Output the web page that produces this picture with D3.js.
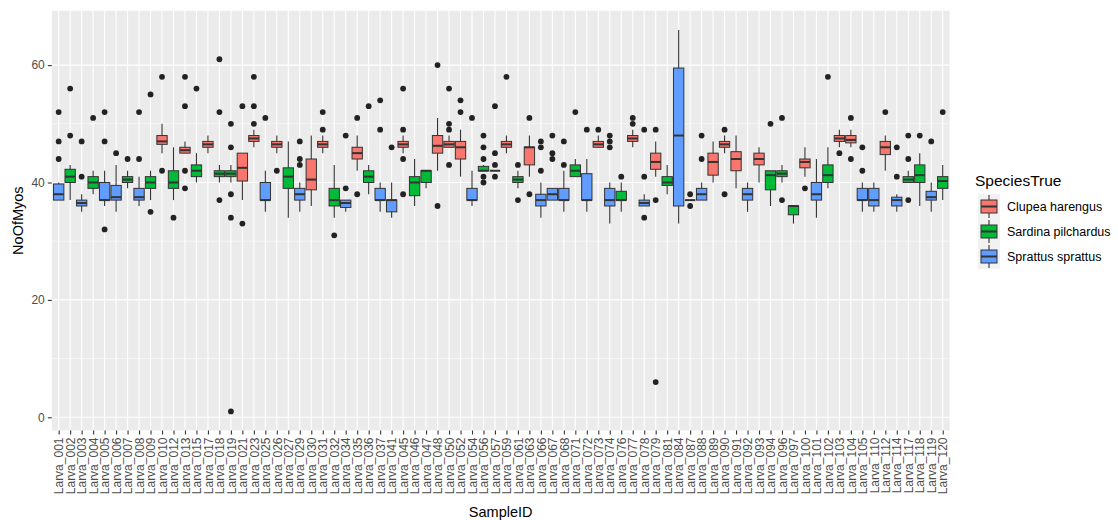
<!DOCTYPE html>
<html>
<head>
<meta charset="utf-8">
<script src="https://cdn.jsdelivr.net/npm/d3@7"></script>
<style>
  body { margin: 0; background: #fff; }
  svg { font-family: "Liberation Sans", Arial, sans-serif; display: block; }
</style>
</head>
<body>
<div id="chart"></div>
<script>
// sample ids on the x axis
var sampleIDs = ["Larva_001","Larva_002","Larva_003","Larva_004","Larva_005","Larva_006","Larva_007","Larva_008","Larva_009","Larva_010",
  "Larva_012","Larva_013","Larva_015","Larva_017","Larva_018","Larva_019","Larva_021","Larva_023","Larva_025","Larva_026",
  "Larva_027","Larva_029","Larva_030","Larva_031","Larva_032","Larva_034","Larva_035","Larva_036","Larva_037","Larva_041",
  "Larva_045","Larva_046","Larva_047","Larva_048","Larva_050","Larva_052","Larva_054","Larva_056","Larva_057","Larva_059",
  "Larva_061","Larva_063","Larva_066","Larva_067","Larva_068","Larva_071","Larva_072","Larva_073","Larva_074","Larva_076",
  "Larva_077","Larva_078","Larva_079","Larva_081","Larva_084","Larva_087","Larva_088","Larva_089","Larva_090","Larva_091",
  "Larva_092","Larva_093","Larva_094","Larva_096","Larva_097","Larva_100","Larva_101","Larva_102","Larva_103","Larva_104",
  "Larva_105","Larva_110","Larva_112","Larva_114","Larva_117","Larva_118","Larva_119","Larva_120"];

// species per sample: C = Clupea, S = Sardina, P = Sprattus
var speciesCode = ["P","S","P","S","P","P","S","P","S","C",
  "S","C","S","C","S","S","C","C","P","C",
  "S","P","C","C","S","P","C","S","P","P",
  "C","S","S","C","C","C","P","S","S","C",
  "S","C","P","P","P","S","P","C","P","S",
  "C","P","C","S","P","P","P","C","C","C",
  "P","C","S","S","S","C","P","S","C","C",
  "P","P","C","P","S","S","P","S"];

var lowerWhisker = [37,37,35,38,36,35,39,36,37,45, 37,45,40,45,40,40,37,46,35,45, 34,35,36,45,34,35,42,38,35,34,
  45,36,39,42,46,41,36,42,42,45, 39,41,34,37,35,41,35,46,33,35, 46,36,41,38,33,37,37,40,45,39,
  35,40,36,40,33,41,34,39,46,46, 35,35,42,35,40,36,35,37];
var q1 = [37,40,36,39,37,37,40,37,39,46.5, 39,45,41,46,41,41,40.25,47,37,46, 39,37,38.75,46,36,35.75,44,40,37,35,
  46,37.75,40,45,46,44,37,42,42,46, 40,43,36,37,37,41,37,46,36,37, 47,36,42.25,39.5,36,37,37,41.25,46,42,
  37,43,38.75,41,34.5,42.5,37,40,47,46.75, 37,36,44.75,36,40,40,37,39];
var median = [38,41,36.5,40,37,37.5,40.5,37.5,40,47, 40,45.5,42,46.5,41.5,41.5,42.5,47.5,37,46.5, 41,38,40.5,46.5,37,36.5,45,41,37,37,
  46.5,40,42,46.25,46.5,46,37,42,42,46.5, 40.5,46,37,38,37,42,37,46.5,37,37, 47.5,36.5,43.5,40,48,37,38,43.5,46.5,44,
  38,44,41.25,41.5,36,43.5,38,41.25,47.5,47.25, 37,37,46,37,40.5,41.25,37.5,40.25];
var q3 = [39.75,42.25,37,41,40,39.5,41,39,41,48, 42,46,43,47,42,42,45,48,40,47, 42.5,39,44,47,39,37,46,42,39,37,
  47,41,42,48,47,47,39,42.75,42,47, 41,46,38,39,39,43,41.5,47,39,38.5, 48,37,45,41,59.5,37,39,45,47,45.25,
  39,45,42,42,36,44,40,43,48,48, 39,39,47,37.5,41,43,38.5,41];
var upperWhisker = [40,43,38,42,42,43,42,41,42,50, 46,47,45,48,43,43,45,49,42,48, 47,40,48,48,43,37,48,43,40,40,
  48,44,42,51,48,49,42,43,42,48, 42,48,40,39,42,44,44,48,40,40, 49,38,47,43,66,37,40,47,48,48,
  40,46,42,43,36,46,44,46,49,49, 40,40,48,38,42,45,40,43];
var outliers = [[52,47,44],[56,48],[47,41],[51],[52,47,32],[45],[44],[52,44],[55,35],[58,42],
  [34],[58,53,42,39],[56],[],[61,52,37],[50,46,38,34,1],[53,33],[58,53,50],[51],[42],
  [],[47,44,43],[],[52,49],[31],[48,39],[51,38],[53],[54,49],[46],
  [56,49,44,38],[],[],[60,36],[56,50,49,43],[54,52],[51],[48,46,44,41,40],[53,45,43,41],[58],
  [43,37],[51,38],[47,46,42],[48,45,44],[47,43],[52],[49],[49],[48,47,46],[41],
  [51,50],[49,41,34],[49,37,6],[],[],[38,36],[48,44],[],[49,38],[],
  [],[],[50],[51,37],[],[39],[],[58],[45],[51,44],
  [46,42],[],[52],[46,41],[48,44,37],[48],[47],[52]];

var speciesNames = ["Clupea harengus","Sardina pilchardus","Sprattus sprattus"];
var speciesKeys = ["C","S","P"];
var speciesColors = ["#F8766D","#00BA38","#619CFF"];
var yTicks = [0,20,40,60];
var yMinor = [10,30,50];

function init(){
  var W = 1118, H = 520;
  var pLeft = 51.8, pRight = 949.6, pTop = 10.8, pBottom = 430.5;

  var rows = sampleIDs.map(function(id, i){
    return {id: id, sp: speciesCode[i], lw: lowerWhisker[i], q1: q1[i], med: median[i],
            q3: q3[i], uw: upperWhisker[i], out: outliers[i]};
  });

  var color = d3.scaleOrdinal().domain(speciesKeys).range(speciesColors);

  var x = d3.scalePoint().domain(sampleIDs).range([pLeft, pRight]).padding(0.6);
  var y = d3.scaleLinear().domain([-2.25, 69.25]).range([pBottom, pTop]);
  var bw = x.step() * 0.9;

  var svg = d3.select("#chart").append("svg").attr("width", W).attr("height", H);
  svg.append("rect").attr("width", W).attr("height", H).attr("fill", "#fff");

  // panel
  svg.append("rect").attr("x", pLeft).attr("y", pTop)
    .attr("width", pRight - pLeft).attr("height", pBottom - pTop).attr("fill", "#EBEBEB");

  svg.selectAll(".minor").data(yMinor).enter().append("line")
    .attr("x1", pLeft).attr("x2", pRight)
    .attr("y1", function(d){ return y(d); }).attr("y2", function(d){ return y(d); })
    .attr("stroke", "#fff").attr("stroke-width", 0.55);
  svg.selectAll(".major").data(yTicks).enter().append("line")
    .attr("x1", pLeft).attr("x2", pRight)
    .attr("y1", function(d){ return y(d); }).attr("y2", function(d){ return y(d); })
    .attr("stroke", "#fff").attr("stroke-width", 1.1);
  svg.selectAll(".vgrid").data(sampleIDs).enter().append("line")
    .attr("x1", function(d){ return x(d); }).attr("x2", function(d){ return x(d); })
    .attr("y1", pTop).attr("y2", pBottom)
    .attr("stroke", "#fff").attr("stroke-width", 1.1);

  // boxes
  var g = svg.selectAll(".box").data(rows).enter().append("g");
  g.append("line")
    .attr("x1", function(d){ return x(d.id); }).attr("x2", function(d){ return x(d.id); })
    .attr("y1", function(d){ return y(d.uw); }).attr("y2", function(d){ return y(d.lw); })
    .attr("stroke", "#333").attr("stroke-width", 1.1);
  g.append("rect")
    .attr("x", function(d){ return x(d.id) - bw / 2; })
    .attr("y", function(d){ return y(d.q3); })
    .attr("width", bw)
    .attr("height", function(d){ return y(d.q1) - y(d.q3); })
    .attr("fill", function(d){ return color(d.sp); })
    .attr("stroke", "#333").attr("stroke-width", 1);
  g.append("line")
    .attr("x1", function(d){ return x(d.id) - bw / 2; }).attr("x2", function(d){ return x(d.id) + bw / 2; })
    .attr("y1", function(d){ return y(d.med); }).attr("y2", function(d){ return y(d.med); })
    .attr("stroke", "#333").attr("stroke-width", 2);
  g.selectAll("circle").data(function(d){ return d.out.map(function(v){ return {id: d.id, v: v}; }); })
    .enter().append("circle")
    .attr("cx", function(d){ return x(d.id); })
    .attr("cy", function(d){ return y(d.v); })
    .attr("r", 2.9).attr("fill", "#222");

  // axes
  var yAxis = d3.axisLeft(y).tickValues(yTicks).tickSize(4).tickPadding(3);
  var ya = svg.append("g").attr("transform", "translate(" + pLeft + ",0)").call(yAxis);
  ya.select(".domain").remove();
  ya.selectAll("line").attr("stroke", "#333").attr("stroke-width", 1.1);
  ya.selectAll("text").attr("fill", "#4D4D4D").style("font-size", "12px");

  var xAxis = d3.axisBottom(x).tickSize(4);
  var xa = svg.append("g").attr("transform", "translate(0," + pBottom + ")").call(xAxis);
  xa.select(".domain").remove();
  xa.selectAll("line").attr("stroke", "#333").attr("stroke-width", 1.1);
  xa.selectAll("text")
    .attr("transform", "rotate(-90)")
    .attr("x", -7).attr("y", 0).attr("dy", "0.35em")
    .style("text-anchor", "end")
    .attr("fill", "#4D4D4D").style("font-size", "12px");

  svg.append("text").attr("x", (pLeft + pRight) / 2).attr("y", 517)
    .attr("text-anchor", "middle").style("font-size", "14.5px").text("SampleID");
  svg.append("text")
    .attr("transform", "translate(23," + ((pTop + pBottom) / 2) + ") rotate(-90)")
    .attr("text-anchor", "middle").style("font-size", "14.5px").text("NoOfMyos");

  // legend
  var lg = svg.append("g");
  lg.append("text").attr("x", 975).attr("y", 186).style("font-size", "15.5px").text("SpeciesTrue");
  var items = lg.selectAll(".item").data(speciesKeys).enter().append("g")
    .attr("transform", function(d, i){ return "translate(978," + (194 + i * 25) + ")"; });
  items.append("rect").attr("width", 22).attr("height", 25).attr("fill", "#F2F2F2");
  items.append("line").attr("x1", 11).attr("x2", 11).attr("y1", 1).attr("y2", 24)
    .attr("stroke", "#333").attr("stroke-width", 1.1);
  items.append("rect").attr("x", 3).attr("y", 6).attr("width", 16).attr("height", 13)
    .attr("fill", function(d){ return color(d); }).attr("stroke", "#333").attr("stroke-width", 1);
  items.append("line").attr("x1", 3).attr("x2", 19).attr("y1", 12.5).attr("y2", 12.5)
    .attr("stroke", "#333").attr("stroke-width", 2);
  items.append("text").attr("x", 29).attr("y", 12.5).attr("dy", "0.35em")
    .style("font-size", "12.5px")
    .text(function(d, i){ return speciesNames[i]; });
}

window.onload = init;
</script>
</body>
</html>
